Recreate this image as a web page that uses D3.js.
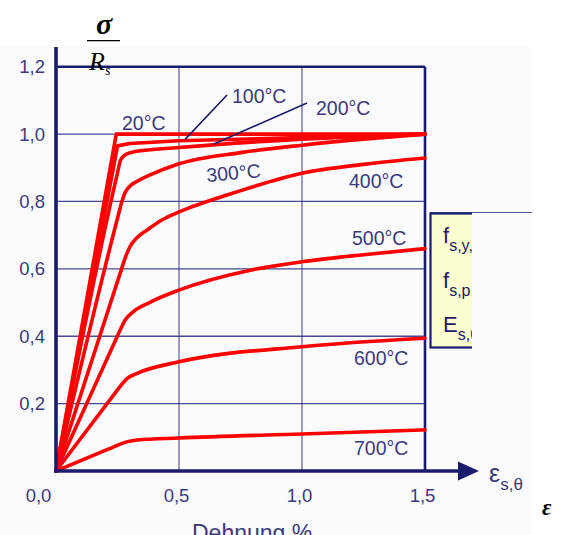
<!DOCTYPE html>
<html>
<head>
<meta charset="utf-8">
<script src="https://cdn.jsdelivr.net/npm/d3@7"></script>
<style>
  html, body { margin: 0; padding: 0; background: #ffffff; overflow: hidden; }
  svg { display: block; }
</style>
</head>
<body>
<svg id="chart" width="577" height="535"></svg>
<script>
// ---------- data ----------
const temperatures = ["20°C", "100°C", "200°C", "300°C", "400°C", "500°C", "600°C", "700°C"];

const curve20  = [[0,0],[0.245,1.0],[0.6,1.0],[1.0,1.0],[1.5,1.0]];
const curve100 = [[0,0],[0.25,0.965],[0.3,0.972],[0.5,0.98],[1.0,0.99],[1.5,1.0]];
const curve200 = [[0,0],[0.25,0.885],[0.262,0.922],[0.28,0.938],[0.32,0.948],[0.5,0.96],[1.0,0.985],[1.5,1.0]];
const curve300 = [[0,0],[0.25,0.75],[0.268,0.80],[0.28,0.825],[0.30,0.845],[0.33,0.86],[0.38,0.878],[0.5,0.912],[0.75,0.945],[1.0,0.967],[1.25,0.985],[1.5,1.0]];
const curve400 = [[0,0],[0.26,0.585],[0.285,0.64],[0.30,0.665],[0.33,0.693],[0.37,0.715],[0.43,0.745],[0.5,0.769],[0.72,0.825],[1.0,0.884],[1.25,0.91],[1.5,0.929]];
const curve500 = [[0,0],[0.24,0.385],[0.265,0.425],[0.28,0.447],[0.31,0.47],[0.38,0.5],[0.5,0.537],[0.79,0.596],[1.0,0.621],[1.25,0.642],[1.5,0.66]];
const curve600 = [[0,0],[0.24,0.231],[0.265,0.255],[0.29,0.275],[0.33,0.29],[0.5,0.324],[1.0,0.369],[1.5,0.394]];
const curve700 = [[0,0],[0.2,0.061],[0.23,0.07],[0.28,0.085],[0.33,0.092],[0.5,0.098],[1.0,0.11],[1.5,0.122]];

const seriesValues = [curve20, curve100, curve200, curve300, curve400, curve500, curve600, curve700];

const xTicks = [0, 0.5, 1.0, 1.5];
const xTickLabels = ["0,0", "0,5", "1,0", "1,5"];
const yTicks = [0.2, 0.4, 0.6, 0.8, 1.0, 1.2];
const yTickLabels = ["0,2", "0,4", "0,6", "0,8", "1,0", "1,2"];
const xGrid = [0.5, 1.0];
const yGrid = [0.2, 0.4, 0.6, 0.8, 1.0];

const legendLines = [["f", "s,y,"], ["f", "s,p,"], ["E", "s,θ"]];
const xTitle = "Dehnung %";

// ---------- layout ----------
const navy = "#1c1c6e";
const labelCol = "#3a3a7c";
const gridCol = "#2a2a82";
const red = "#ff0000";

const svg = d3.select("#chart");
const x = d3.scaleLinear().domain([0, 1.5]).range([56, 425]);
const y = d3.scaleLinear().domain([0, 1.2]).range([471, 66.7]);

// faint background of the pasted picture
svg.append("rect").attr("x", 0).attr("y", 47).attr("width", 532).attr("height", 488)
  .attr("fill", "#fbfbfd");

// grid
svg.append("g").selectAll("line").data(yGrid).join("line")
  .attr("x1", x(0)).attr("x2", x(1.5))
  .attr("y1", d => y(d)).attr("y2", d => y(d))
  .attr("stroke", gridCol).attr("stroke-width", 1.3).attr("opacity", 0.85);
svg.append("g").selectAll("line").data(xGrid).join("line")
  .attr("x1", d => x(d)).attr("x2", d => x(d))
  .attr("y1", y(1.2)).attr("y2", y(0))
  .attr("stroke", gridCol).attr("stroke-width", 1.1).attr("opacity", 0.85);

// frame: top and right
svg.append("line").attr("x1", x(0)).attr("x2", x(1.5)).attr("y1", y(1.2)).attr("y2", y(1.2))
  .attr("stroke", navy).attr("stroke-width", 2.6);
svg.append("line").attr("x1", x(1.5)).attr("x2", x(1.5)).attr("y1", y(1.2)).attr("y2", y(0))
  .attr("stroke", navy).attr("stroke-width", 2.6);

// curves: sharp corners for 20/100 °C, smooth knees for the others
const lineSharp = d3.line().x(d => x(d[0])).y(d => y(d[1])).curve(d3.curveLinear);
const lineSmooth = d3.line().x(d => x(d[0])).y(d => y(d[1])).curve(d3.curveMonotoneX);
svg.append("g").selectAll("path").data(seriesValues).join("path")
  .attr("d", (d, i) => i < 2 ? lineSharp(d) : lineSmooth(d))
  .attr("fill", "none").attr("stroke", red).attr("stroke-width", 3.6)
  .attr("stroke-linejoin", "round").attr("stroke-linecap", "round");

// axes lines
svg.append("line").attr("x1", x(0)).attr("x2", x(0)).attr("y1", 47).attr("y2", y(0) + 1.5)
  .attr("stroke", navy).attr("stroke-width", 3.6);
svg.append("line").attr("x1", x(0) - 1.5).attr("x2", 462).attr("y1", y(0)).attr("y2", y(0))
  .attr("stroke", navy).attr("stroke-width", 3.4);
svg.append("path").attr("d", `M458,${y(0) - 9.5} L479,${y(0)} L458,${y(0) + 9.5} Z`).attr("fill", navy);

// y axis labels
const yAxis = d3.axisLeft(y).tickValues(yTicks).tickSize(0).tickPadding(11)
  .tickFormat((d, i) => yTickLabels[i]);
const gy = svg.append("g").attr("transform", `translate(${x(0)},0)`).call(yAxis);
gy.select(".domain").remove();
gy.selectAll("text").attr("font-family", "Liberation Sans, Arial, sans-serif")
  .attr("font-size", 18.5).attr("fill", labelCol);

// x axis labels
const xAxis = d3.axisBottom(x).tickValues(xTicks).tickSize(0).tickPadding(18)
  .tickFormat((d, i) => xTickLabels[i]);
const gx = svg.append("g").attr("transform", `translate(0,${y(0)})`).call(xAxis);
gx.select(".domain").remove();
gx.selectAll("text").attr("font-family", "Liberation Sans, Arial, sans-serif")
  .attr("font-size", 18.5).attr("fill", labelCol)
  .attr("dx", (d, i) => i === 0 ? -18 : -3);

// temperature labels
const labelPos = [[122, 130], [232, 103], [316, 115], [207, 182], [349, 188], [352, 245], [354, 365], [354, 455]];
svg.append("g").selectAll("text").data(temperatures).join("text")
  .attr("x", (d, i) => labelPos[i][0]).attr("y", (d, i) => labelPos[i][1])
  .attr("font-family", "Liberation Sans, Arial, sans-serif").attr("font-size", 19.5)
  .attr("fill", labelCol)
  .attr("transform", (d, i) => i === 3 ? `rotate(-5 ${labelPos[i][0]} ${labelPos[i][1]})` : null)
  .text(d => d);

// pointer lines for 100°C and 200°C
const pointers = [{ s: 1, e: 0.524, tx: 227, ty: 95 }, { s: 2, e: 0.64, tx: 307, ty: 103 }];
function interp(series, e) {
  for (let k = 1; k < series.length; k++) {
    if (e <= series[k][0]) {
      const a = series[k - 1], b = series[k];
      return a[1] + (b[1] - a[1]) * (e - a[0]) / (b[0] - a[0]);
    }
  }
  return series[series.length - 1][1];
}
svg.append("g").selectAll("line").data(pointers).join("line")
  .attr("x1", d => x(d.e)).attr("y1", d => y(interp(seriesValues[d.s], d.e)) - 1)
  .attr("x2", d => d.tx).attr("y2", d => d.ty)
  .attr("stroke", navy).attr("stroke-width", 1.6);

// legend box (cut off on the right)
svg.append("line").attr("x1", 430).attr("x2", 532).attr("y1", 212.5).attr("y2", 212.5)
  .attr("stroke", gridCol).attr("stroke-width", 1).attr("opacity", 0.8);
const defs = svg.append("defs");
defs.append("clipPath").attr("id", "cut").append("rect")
  .attr("x", 420).attr("y", 200).attr("width", 52).attr("height", 160);
const box = svg.append("g").attr("clip-path", "url(#cut)");
box.append("rect").attr("x", 430.5).attr("y", 213.5).attr("width", 80).attr("height", 134)
  .attr("fill", "#fdfdd2").attr("stroke", navy).attr("stroke-width", 2.2);
const lg = box.append("g").selectAll("text").data(legendLines).join("text")
  .attr("x", 443).attr("y", (d, i) => 243 + i * 44.5)
  .attr("font-family", "Liberation Sans, Arial, sans-serif").attr("font-size", 22)
  .attr("fill", "#22225e");
lg.append("tspan").text(d => d[0]);
lg.append("tspan").attr("font-size", 16).attr("dy", 8).text(d => d[1]);

// x-axis symbol ε_s,θ
const es = svg.append("text").attr("x", 489).attr("y", 482)
  .attr("font-family", "Liberation Sans, Arial, sans-serif").attr("fill", labelCol);
es.append("tspan").attr("font-size", 25).text("ε");
es.append("tspan").attr("font-size", 17).attr("dy", 8).text("s,θ");

// math labels (serif italic)
svg.append("text").attr("x", 104).attr("y", 34).attr("text-anchor", "middle")
  .attr("font-family", "Liberation Serif, Times New Roman, serif").attr("font-style", "italic")
  .attr("font-weight", "bold").attr("font-size", 30).attr("fill", "#000").text("σ");
svg.append("line").attr("x1", 87).attr("x2", 120).attr("y1", 40.7).attr("y2", 40.7)
  .attr("stroke", "#000").attr("stroke-width", 1.2);
const rs = svg.append("text").attr("x", 89).attr("y", 70)
  .attr("font-family", "Liberation Serif, Times New Roman, serif").attr("font-style", "italic")
  .attr("fill", "#000");
rs.append("tspan").attr("font-size", 26).text("R");
rs.append("tspan").attr("font-size", 14).attr("dy", 5).text("s");
svg.append("text").attr("x", 542).attr("y", 515)
  .attr("font-family", "Liberation Serif, Times New Roman, serif").attr("font-style", "italic")
  .attr("font-weight", "bold").attr("font-size", 23).attr("fill", "#000").text("ε");

// x axis title (cut off by the page bottom, as in the reference)
svg.append("text").attr("x", 192).attr("y", 541)
  .attr("font-family", "Liberation Sans, Arial, sans-serif").attr("font-size", 23)
  .attr("fill", labelCol).text(xTitle);
</script>
</body>
</html>
